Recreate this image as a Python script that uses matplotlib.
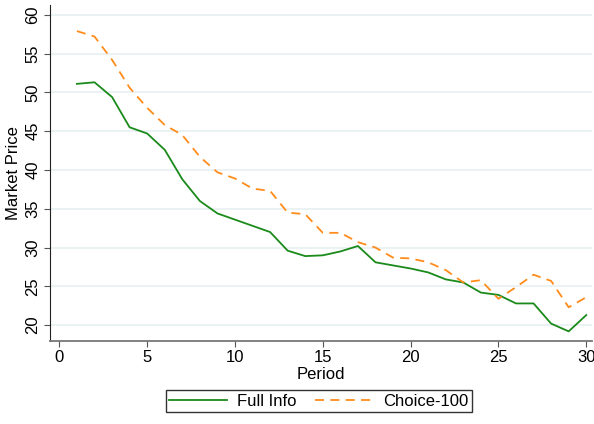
import matplotlib
matplotlib.use("Agg")
import matplotlib.pyplot as plt

# period-by-period market prices
periods = list(range(1, 31))
full_info = [51.1, 51.3, 49.4, 45.5, 44.7, 42.6, 38.8, 36.0, 34.4, 33.6,
             32.8, 32.0, 29.6, 28.9, 29.0, 29.5, 30.2, 28.1, 27.7, 27.3,
             26.8, 25.9, 25.5, 24.2, 23.9, 22.8, 22.8, 20.2, 19.2, 21.3]
choice_100 = [57.9, 57.2, 54.2, 50.6, 48.0, 45.8, 44.5, 41.7, 39.7, 38.9,
              37.6, 37.3, 34.5, 34.3, 31.9, 31.9, 30.7, 30.0, 28.7, 28.6,
              28.1, 27.1, 25.5, 25.8, 23.4, 24.9, 26.5, 25.7, 22.3, 23.6]
xticks = [0, 5, 10, 15, 20, 25, 30]
yticks = [20, 25, 30, 35, 40, 45, 50, 55, 60]

plt.rcParams['font.family'] = ['Liberation Sans', 'DejaVu Sans']

fig = plt.figure(figsize=(5.94, 4.24), dpi=100)
ax = fig.add_axes([0.0837, 0.1965, 0.9133, 0.7915])

ax.plot(periods, full_info, color='#1a8a1a', lw=1.3, label='Full Info')
ax.plot(periods, choice_100, color='#ff8c1a', lw=1.3, dashes=(5, 3.5), label='Choice-100')

ax.set_xlim(-0.55, 30.34)
ax.set_ylim(18.0, 61.25)
ax.set_xticks(xticks)
ax.set_yticks(yticks)
ax.tick_params(axis='y', labelrotation=90, labelsize=12, length=4.3, color='#555555', pad=2.5)
ax.tick_params(axis='x', labelsize=12, length=4.3, color='#555555', pad=2.5)
for lab in ax.get_yticklabels():
    lab.set_va('center')

ax.grid(axis='y', color='#e8f0f1', lw=1.2)
ax.set_axisbelow(True)
ax.spines['top'].set_visible(False)
ax.spines['right'].set_visible(False)
ax.spines['left'].set_color('#222222')
ax.spines['bottom'].set_color('#777777')
ax.spines['bottom'].set_linewidth(1.3)

ax.set_xlabel('Period', fontsize=12, labelpad=1)
ax.set_ylabel('Market Price', fontsize=12, labelpad=3)

fig.legend(loc='center', bbox_to_anchor=(0.5366, 0.0535), ncol=2, fontsize=12,
           frameon=True, fancybox=False, edgecolor='#333333', framealpha=1,
           handlelength=3.5, handletextpad=0.6, columnspacing=1.1,
           borderpad=0.2)

fig.savefig('out.png', dpi=100)
